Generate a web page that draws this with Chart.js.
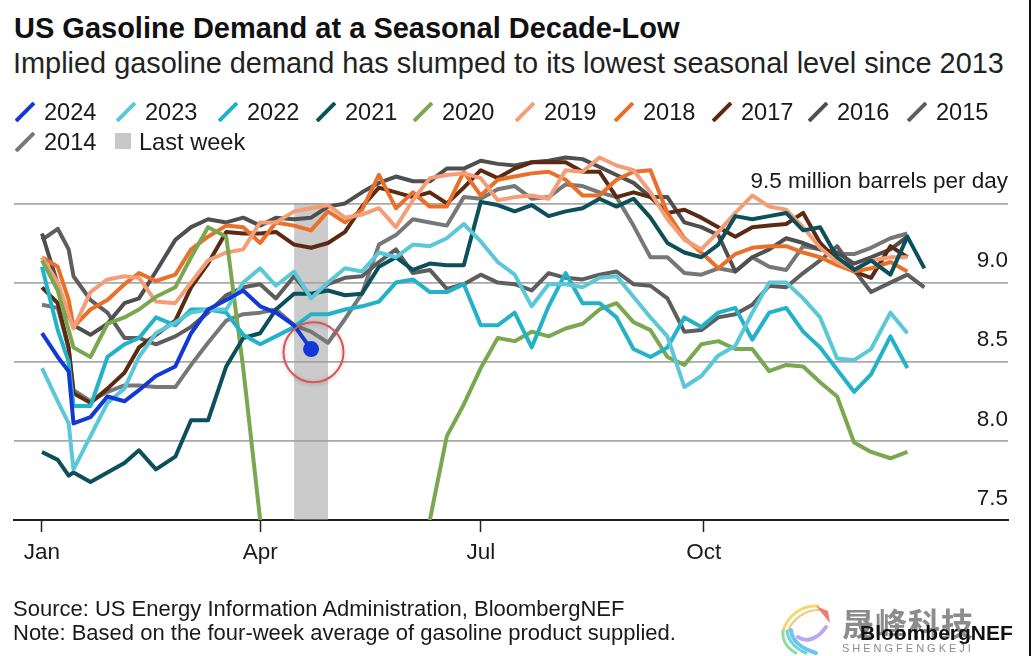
<!DOCTYPE html>
<html>
<head>
<meta charset="utf-8">
<title>US Gasoline Demand</title>
<script src="https://cdn.jsdelivr.net/npm/chart.js@4/dist/chart.umd.min.js"></script>
<style>
  html, body { margin: 0; padding: 0; background: #fff; overflow: hidden; }
  body { width: 1032px; height: 656px; position: relative; font-family: "Liberation Sans", Arial, sans-serif; color: #1a1a1a; }
  canvas { position: absolute; left: 0; top: 0; }
  .txt { position: absolute; white-space: nowrap; }
  #title { left: 14px; top: 12px; font-size: 29px; font-weight: bold; color: #111; }
  #subtitle { left: 13px; top: 47px; font-size: 28.9px; color: #222; }
  #source { left: 13px; top: 596px; font-size: 22px; }
  #note { left: 13px; top: 620px; font-size: 22px; }
  .leg { position: absolute; font-size: 23.6px; white-space: nowrap; line-height: 26px; }
  #wm-cn { right: 58px; top: 602px; font-size: 32px; font-weight: bold; color: #8c8c8c; letter-spacing: 1px; font-family: "Noto Sans CJK SC", sans-serif; line-height: 40px; }
  #wm-en { left: 842px; top: 642px; font-size: 11px; color: #8c8c8c; letter-spacing: 3px; }
  #brand { left: 860px; top: 621px; font-size: 21px; font-weight: bold; color: #111; }
  #logo { position: absolute; left: 780px; top: 603px; }
  #edge { position: absolute; left: 1029px; top: 0; width: 2px; height: 656px; background: #111; }
</style>
</head>
<body>
<div class="txt" id="title">US Gasoline Demand at a Seasonal Decade-Low</div>
<div class="txt" id="subtitle">Implied gasoline demand has slumped to its lowest seasonal level since 2013</div>
<canvas id="chart" width="1032" height="656"></canvas>
<div class="txt" id="source">Source: US Energy Information Administration, BloombergNEF</div>
<div class="txt" id="note">Note: Based on the four-week average of gasoline product supplied.</div>

<!-- watermark over the corner -->
<svg id="logo" width="56" height="53" viewBox="0 0 56 53" fill="none" stroke-linecap="round">
  <path d="M38 3 C22 2 8 12 3 28" stroke="#f5d76e" stroke-width="3"/>
  <path d="M40 7 C26 6 12 16 7 30" stroke="#f2c879" stroke-width="2"/>
  <path d="M3 28 C2 38 8 46 16 50" stroke="#8fdc9a" stroke-width="3"/>
  <path d="M7 28 C8 38 16 46 26 50" stroke="#6fd4d8" stroke-width="3"/>
  <path d="M11 27 C12 38 22 46 36 50" stroke="#6cc4f5" stroke-width="4"/>
  <path d="M18 34 C26 40 38 36 46 24" stroke="#b9a8f0" stroke-width="4"/>
  <path d="M36 3 L48 8 L50 20 Z" fill="#ee7d6c" stroke="none"/>
</svg>
<div class="txt" id="wm-cn">晟峰科技</div>
<div class="txt" id="wm-en">SHENGFENGKEJI</div>
<div class="txt" id="brand">BloombergNEF</div>
<div id="edge"></div>

<script>
// ── Data (million barrels per day) ────────────────────────────────────
const days = [0, 6.5, 11, 13, 20, 27, 34, 40, 47, 55, 61.5, 68.5, 76, 83, 90, 96.5, 104, 111,
  118, 125, 132, 139, 146, 153, 160, 167, 174, 181, 188, 195, 202, 209, 216, 223, 230, 237,
  244, 251, 258, 265, 272, 279, 286, 293, 300, 307, 314, 321, 328, 335, 342, 350, 357, 364];

const values2024 = [8.68, 8.53, 8.44, 8.11, 8.15, 8.28, 8.25, 8.32, 8.41, 8.47, 8.68, 8.83, 8.89, 8.95, 8.85, 8.81, 8.73, 8.58];
const values2023 = [8.46, 8.25, 8.11, 7.82, 8.03, 8.24, 8.33, 8.53, 8.68, 8.75, 8.81, 8.83, 8.83, 9.00, 9.09, 8.98, 9.07, 8.90, 9.00, 9.09, 9.07, 9.19, 9.16, 9.24, 9.23, 9.28, 9.37, 9.26, 9.13, 9.05, 8.85, 8.99, 8.99, 8.97, 9.03, 9.04, 8.91, 8.78, 8.66, 8.34, 8.41, 8.54, 8.60, 8.81, 9.00, 9.00, 8.90, 8.78, 8.52, 8.51, 8.58, 8.81, 8.68];
const values2022 = [9.10, 8.70, 8.50, 8.22, 8.22, 8.53, 8.61, 8.65, 8.78, 8.73, 8.83, 8.83, 8.81, 8.67, 8.61, 8.66, 8.72, 8.80, 8.80, 8.83, 8.85, 8.88, 9.00, 9.02, 8.94, 8.94, 8.99, 8.73, 8.73, 8.81, 8.59, 8.85, 9.06, 8.87, 8.87, 8.78, 8.58, 8.53, 8.59, 8.78, 8.72, 8.81, 8.84, 8.64, 8.81, 8.84, 8.69, 8.59, 8.45, 8.31, 8.42, 8.66, 8.46];
const values2021 = [7.93, 7.88, 7.78, 7.80, 7.74, 7.80, 7.86, 7.94, 7.82, 7.90, 8.13, 8.13, 8.47, 8.65, 8.68, 8.83, 8.93, 8.93, 8.95, 8.92, 8.93, 9.10, 9.16, 9.08, 9.12, 9.11, 9.11, 9.51, 9.49, 9.45, 9.49, 9.42, 9.45, 9.47, 9.53, 9.48, 9.53, 9.41, 9.25, 9.19, 9.16, 9.24, 9.42, 9.40, 9.42, 9.44, 9.33, 9.35, 9.16, 9.08, 9.14, 9.05, 9.29, 9.09];
// the spring 2020 trough runs below the axis and is cut off, as in the original
const values2020 = [9.14, 8.95, 8.70, 8.59, 8.53, 8.74, 8.78, 8.83, 8.91, 8.97, 9.16, 9.35, 9.29, 8.46, 7.50, 7.00, 6.60, 6.30, 6.20, 6.30, 6.50, 6.70, 6.90, 7.20, 7.50, 8.03, 8.23, 8.46, 8.65, 8.63, 8.69, 8.66, 8.71, 8.74, 8.83, 8.87, 8.75, 8.70, 8.53, 8.48, 8.61, 8.63, 8.58, 8.58, 8.44, 8.48, 8.47, 8.37, 8.28, 7.99, 7.93, 7.89, 7.93];
const values2019 = [9.16, 9.00, 8.80, 8.71, 8.94, 9.02, 9.04, 9.03, 8.88, 8.87, 9.00, 9.14, 9.19, 9.21, 9.38, 9.38, 9.45, 9.47, 9.49, 9.41, 9.43, 9.47, 9.35, 9.52, 9.66, 9.68, 9.69, 9.66, 9.52, 9.54, 9.55, 9.53, 9.71, 9.70, 9.79, 9.74, 9.71, 9.57, 9.40, 9.27, 9.21, 9.32, 9.44, 9.55, 9.48, 9.46, 9.35, 9.22, 9.13, 9.08, 9.14, 9.16, 9.16];
const values2018 = [9.16, 9.10, 8.89, 8.72, 8.83, 8.89, 8.99, 9.06, 9.01, 9.05, 9.21, 9.29, 9.36, 9.35, 9.25, 9.38, 9.36, 9.33, 9.45, 9.38, 9.46, 9.68, 9.47, 9.57, 9.48, 9.48, 9.70, 9.55, 9.65, 9.67, 9.69, 9.70, 9.65, 9.55, 9.55, 9.65, 9.70, 9.71, 9.44, 9.28, 9.19, 9.09, 9.18, 9.22, 9.23, 9.23, 9.19, 9.16, 9.11, 9.07, 9.09, 9.13, 9.07];
const values2017 = [8.97, 8.87, 8.59, 8.30, 8.24, 8.33, 8.43, 8.59, 8.67, 8.76, 8.97, 9.12, 9.32, 9.31, 9.31, 9.32, 9.24, 9.22, 9.25, 9.32, 9.48, 9.60, 9.57, 9.54, 9.57, 9.50, 9.60, 9.71, 9.66, 9.72, 9.76, 9.76, 9.76, 9.70, 9.70, 9.54, 9.57, 9.54, 9.44, 9.46, 9.41, 9.35, 9.29, 9.35, 9.36, 9.37, 9.44, 9.25, 9.14, 9.07, 9.03, 9.23, 9.16];
const values2016 = [9.31, 8.99, 8.79, 8.73, 8.67, 8.74, 8.87, 8.90, 9.07, 9.27, 9.35, 9.40, 9.38, 9.41, 9.36, 9.41, 9.40, 9.41, 9.48, 9.50, 9.57, 9.63, 9.67, 9.64, 9.64, 9.72, 9.72, 9.77, 9.75, 9.74, 9.76, 9.77, 9.79, 9.78, 9.73, 9.68, 9.63, 9.54, 9.54, 9.38, 9.35, 9.30, 9.07, 9.16, 9.21, 9.28, 9.25, 9.21, 9.19, 9.12, 9.16, 9.21, 9.29];
const values2015 = [9.27, 9.34, 9.21, 9.04, 8.89, 8.81, 8.65, 8.65, 8.61, 8.66, 8.72, 8.81, 8.92, 8.97, 8.99, 8.90, 9.04, 8.91, 8.99, 9.03, 9.04, 9.13, 9.21, 9.06, 9.08, 8.96, 8.99, 9.05, 9.00, 8.99, 8.95, 9.06, 9.03, 9.02, 9.05, 9.07, 8.99, 8.98, 8.90, 8.69, 8.70, 8.78, 8.80, 8.86, 8.98, 8.97, 9.06, 9.14, 9.23, 9.08, 8.94, 9.00, 9.05, 8.97];
const values2014 = [8.86, 8.84, 8.58, 8.32, 8.25, 8.31, 8.35, 8.35, 8.34, 8.34, 8.48, 8.62, 8.76, 8.80, 8.81, 8.83, 8.73, 8.69, 8.62, 8.77, 8.93, 9.24, 9.30, 9.40, 9.38, 9.36, 9.54, 9.53, 9.59, 9.61, 9.53, 9.54, 9.62, 9.61, 9.57, 9.54, 9.36, 9.16, 9.16, 9.06, 9.05, 9.09, 9.07, 9.16, 9.10, 9.08, 9.23, 9.21, 9.18, 9.18, 9.22, 9.28, 9.31];

const years = ['2024', '2023', '2022', '2021', '2020', '2019', '2018', '2017', '2016', '2015', '2014'];
const seriesValues = [values2024, values2023, values2022, values2021, values2020, values2019, values2018, values2017, values2016, values2015, values2014];

const monthTicks = [0, 90, 181, 273];
const monthLabels = ['Jan', 'Apr', 'Jul', 'Oct'];
const valueTicks = [7.5, 8, 8.5, 9, 9.5];
const valueLabels = ['7.5', '8.0', '8.5', '9.0', '9.5 million barrels per day'];
const lastWeekDays = [104, 118];
const circleCentre = [112, 8.56];

// ── Styling ───────────────────────────────────────────────────────────
const yearColors = ['#1338d8', '#5bc8d8', '#23b2c8', '#0d4f5a', '#7aa850', '#f49e78', '#e8702a', '#5a2a12', '#4f4f4f', '#5e5e5e', '#777777'];
const FONT = '"Liberation Sans", Arial, sans-serif';
const TEXT_COLOR = '#1a1a1a';

// ── Legend (HTML, two rows like the original) ─────────────────────────
const legendLefts = [15, 116, 218, 316, 413, 515, 614, 712, 808, 907, 15];

function addLegendItem(left, top, swatch, label, labelLeft) {
  const box = document.createElement('div');
  box.className = 'leg';
  box.style.left = left + 'px';
  box.style.top = top + 'px';
  box.innerHTML = swatch + `<span style="position:absolute;left:${labelLeft}px;top:0">${label}</span>`;
  document.body.appendChild(box);
}

years.forEach((year, i) => {
  const top = i < 10 ? 99 : 129;
  const swatch = `<svg width="20" height="20" style="position:absolute;left:0;top:3px">
    <line x1="1" y1="19" x2="19" y2="1" stroke="${yearColors[i]}" stroke-width="4"/></svg>`;
  addLegendItem(legendLefts[i], top, swatch, year, 29);
});
addLegendItem(115, 129, '<div style="position:absolute;left:0;top:4px;width:16px;height:16px;background:#c8c8c8"></div>', 'Last week', 24);

// ── Plugin: the last-week band, value labels and the red circle ───────
const annotations = {
  id: 'annotations',
  beforeDatasetsDraw(chart) {
    const { ctx, scales: { x, y } } = chart;
    const left = x.getPixelForValue(lastWeekDays[0]);
    const right = x.getPixelForValue(lastWeekDays[1]);
    const top = y.getPixelForValue(9.5);
    ctx.save();
    ctx.fillStyle = 'rgba(160,160,160,0.55)';
    ctx.fillRect(left, top, right - left, y.bottom - top);
    ctx.restore();
  },
  afterDraw(chart) {
    const { ctx, scales: { x, y } } = chart;
    ctx.save();
    ctx.font = '22.5px ' + FONT;
    ctx.fillStyle = TEXT_COLOR;
    ctx.textAlign = 'right';
    ctx.textBaseline = 'middle';
    valueTicks.forEach((v, i) => {
      ctx.fillText(valueLabels[i], chart.chartArea.right, y.getPixelForValue(v) - 21.5);
    });
    ctx.strokeStyle = '#dc5454';
    ctx.lineWidth = 2;
    ctx.shadowColor = 'rgba(0,0,0,0.25)';
    ctx.shadowBlur = 4;
    ctx.shadowOffsetY = 1;
    ctx.beginPath();
    ctx.arc(x.getPixelForValue(circleCentre[0]), y.getPixelForValue(circleCentre[1]), 30, 0, Math.PI * 2);
    ctx.stroke();
    ctx.restore();
  },
};

// ── Chart ─────────────────────────────────────────────────────────────
const datasets = years.map((year, i) => ({
  label: year,
  data: seriesValues[i].map((v, j) => ({ x: days[j], y: v })),
  borderColor: yearColors[i],
  backgroundColor: yearColors[i],
  borderWidth: 4,
  tension: 0,
  borderJoinStyle: 'round',
  pointRadius: year === '2024' ? (c) => (c.dataIndex === seriesValues[i].length - 1 ? 6 : 0) : 0,
}));

new Chart(document.getElementById('chart'), {
  type: 'line',
  data: { datasets },
  plugins: [annotations],
  options: {
    responsive: false,
    animation: false,
    events: [],
    layout: { padding: { left: 14, right: 24, top: 124.3, bottom: 0 } },
    plugins: { legend: { display: false }, title: { display: false }, tooltip: { enabled: false } },
    scales: {
      x: {
        type: 'linear',
        min: -11.55,
        max: 398.5,
        afterBuildTicks(scale) { scale.ticks = monthTicks.map((value) => ({ value })); },
        afterFit(scale) { scale.height = 136; },
        border: { color: '#222', width: 2 },
        grid: { drawOnChartArea: false, tickLength: 12, tickColor: '#222', tickWidth: 1.5 },
        ticks: {
          autoSkip: false,
          maxRotation: 0,
          padding: 7,
          color: TEXT_COLOR,
          font: { family: FONT, size: 22.5 },
          callback: (value) => monthLabels[monthTicks.indexOf(value)],
        },
      },
      y: {
        min: 7.5,
        max: 10,
        afterBuildTicks(scale) { scale.ticks = valueTicks.map((value) => ({ value })); },
        afterFit(scale) { scale.width = 0; },
        border: { display: false },
        grid: {
          drawTicks: false,
          lineWidth: 1.8,
          color: (c) => (c.tick.value === 7.5 ? 'rgba(0,0,0,0)' : '#a9a9a9'),
        },
        ticks: { display: false },
      },
    },
  },
});
</script>
</body>
</html>
